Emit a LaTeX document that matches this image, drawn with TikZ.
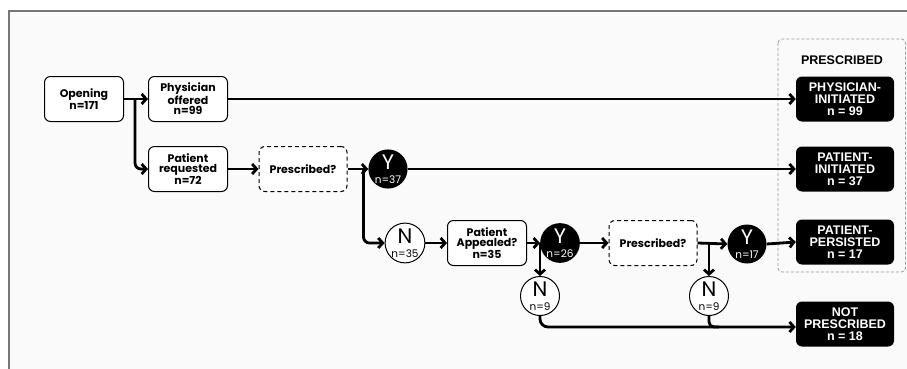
\documentclass[tikz,border=0pt]{standalone}
\usepackage{fontspec}
\usetikzlibrary{arrows.meta}
\newfontfamily\popf{Poppins}
\newfontfamily\arf{Liberation Sans}
\definecolor{bgc}{HTML}{FAFAFA}
\definecolor{framec}{HTML}{777777}
\definecolor{dashc}{HTML}{999999}
\tikzset{
  wbox/.style={draw, line width=1pt, rounded corners=6pt, fill=white, minimum width=79pt, minimum height=45pt, inner sep=1pt, align=center, font=\popf\bfseries\fontsize{11}{10.5}\selectfont},
  dbox/.style={wbox, dash pattern=on 4pt off 3pt, minimum width=88pt},
  bbox/.style={fill=black, text=white, rounded corners=6pt, minimum width=98pt, minimum height=45pt, inner sep=1pt, align=center, font=\arf\bfseries\fontsize{12.5}{12}\selectfont},
  ycirc/.style={circle, fill=black, text=white, minimum size=39pt, inner sep=0pt, align=center, font=\popf},
  ncirc/.style={circle, draw, line width=1pt, fill=white, minimum size=39pt, inner sep=0pt, align=center, font=\popf},
  arr/.style={line width=2.8pt, -{Straight Barb[length=4.5pt,width=10pt]}},
  plain/.style={line width=2.8pt},
}
\newcommand{\circtext}[2]{{\fontsize{21}{13}\selectfont #1}\\[2.5pt]{\fontsize{10.5}{8}\selectfont #2}}
\begin{document}
\begin{tikzpicture}[x=1pt,y=-1pt]
\useasboundingbox (0,0) rectangle (907,369);
\fill[white] (0,0) rectangle (907,369);
\fill[bgc] (9,11) rectangle (907,369);
\draw[framec, line width=1.5pt] (9,369) -- (9,11) -- (907,11);
\draw[dashc, line width=0.8pt, dash pattern=on 3pt off 2pt, rounded corners=4pt] (778,39) rectangle (905.5,272);
\node[font=\arf\bfseries\fontsize{12.5}{12}\selectfont] (lab) at (842,60) {PRESCRIBED};

\node[wbox] (open) at (84,99) {Opening\\n=171};
\node[wbox] (phys) at (188,99) {Physician\\offered\\n=99};
\node[wbox] (preq) at (188,169) {Patient\\requested\\n=72};
\node[dbox] (pr1) at (303,169) {Prescribed?};
\node[ycirc] (y37) at (388,169) {\circtext{Y}{n=37}};
\node[ncirc] (n35) at (405,243) {\circtext{N}{n=35}};
\node[wbox] (app) at (487,243) {Patient\\Appealed?\\n=35};
\node[ycirc] (y26) at (560,243) {\circtext{Y}{n=26}};
\node[dbox] (pr2) at (653,243) {Prescribed?};
\node[ycirc] (y17) at (747,244) {\circtext{Y}{n=17}};
\node[ncirc] (n9a) at (540,296) {\circtext{N}{n=9}};
\node[ncirc] (n9b) at (709,296) {\circtext{N}{n=9}};

\node[bbox] (pi) at (845,99) {PHYSICIAN-\\INITIATED\\n = 99};
\node[bbox] (pat) at (845,169) {PATIENT-\\INITIATED\\n = 37};
\node[bbox] (pp) at (845,242) {PATIENT-\\PERSISTED\\n = 17};
\node[bbox] (np) at (845,324) {NOT\\PRESCRIBED\\n = 18};

\coordinate (s1) at ([xshift=11pt]open.east);
\coordinate (s2) at ([xshift=16pt]pr1.east);
\coordinate (s3) at (n9a |- app.east);
\coordinate (s4) at (n9b |- pr2.east);
\coordinate (m1) at ([xshift=10pt]n9b |- 0,327);

\draw[arr] (open.east) -- (phys.west);
\draw[arr, rounded corners=6pt] (s1) |- (preq.west);
\draw[arr] (phys.east) -- (pi.west);
\draw[arr] (preq.east) -- (pr1.west);
\draw[arr] (pr1.east) -- (y37.west);
\draw[arr, rounded corners=6pt] (s2) |- (n35.west);
\draw[arr] (y37.east) -- (pat.west);
\draw[arr] (n35.east) -- (app.west);
\draw[arr] (app.east) -- (y26.west);
\draw[arr] (s3) -- (n9a.north);
\draw[arr] (y26.east) -- (pr2.west);
\draw[arr] (pr2.east) -- (y17.west);
\draw[arr] (s4) -- (n9b.north);
\draw[arr] (y17.east) -- (pp.west);
\draw[arr, rounded corners=8pt] (n9a.south) |- (np.west |- 0,327);
\draw[plain, rounded corners=5pt] (n9b.south) |- (m1);
\end{tikzpicture}
\end{document}
